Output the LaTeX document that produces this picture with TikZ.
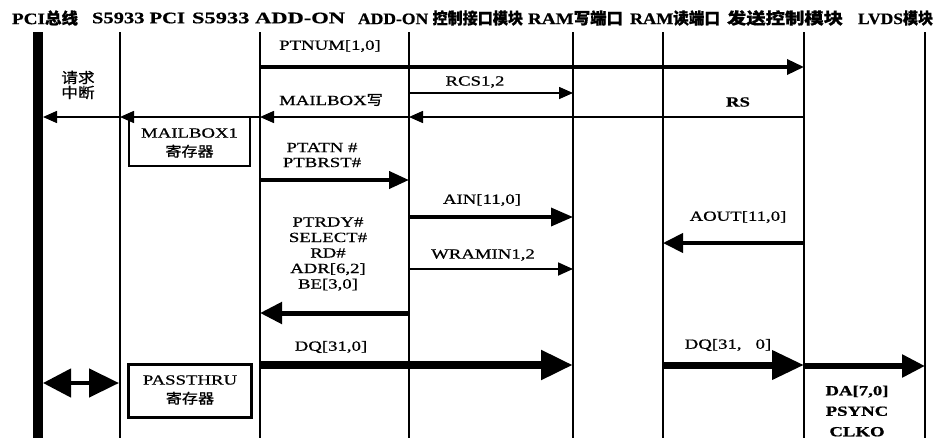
\documentclass[tikz,border=0pt]{standalone}
\usepackage{fontspec}
\usepackage{graphicx}
\usetikzlibrary{arrows.meta}
\setmainfont{Liberation Serif}[FakeStretch=1.34, FakeBold=0.7]
\newfontfamily\cjk{Noto Sans CJK SC}[FakeStretch=1.15, FakeBold=0.8]
\newcommand{\fitw}[2]{\resizebox{#1}{\height}{#2}}
\tikzset{
  lifeline/.style={line width=2pt},
  hdr/.style={font=\fontsize{16}{18}\selectfont\bfseries, inner sep=0pt},
  lbl/.style={font=\fontsize{14}{15.5}\selectfont, inner sep=0pt, align=center},
  thinarr/.style={line width=1.6pt, -{Triangle[length=14pt,width=12pt]}},
  arrA/.style={line width=3.5pt, -{Triangle[length=17pt,width=15pt]}},
  arrB/.style={line width=4pt, -{Triangle[length=20pt,width=17pt]}},
  arrC/.style={line width=5pt, -{Triangle[length=22pt,width=21pt]}},
  arrD/.style={line width=8pt, -{Triangle[length=32pt,width=28pt]}},
  regbox/.style={draw, line width=1.4pt},
}
\begin{document}
\begin{tikzpicture}[x=1pt,y=-1pt]
\useasboundingbox[fill=white] (0,0) rectangle (945,442);
% headers
\node[hdr] (h1) at (45,18) {\fitw{66pt}{PCI{\cjk\bfseries 总线}}};
\node[hdr] (h2) at (138.5,18) {\fitw{93pt}{S5933 PCI}};
\node[hdr] (h3) at (268.5,18) {\fitw{153pt}{S5933 ADD-ON}};
\node[hdr] (h4) at (440.5,18) {\fitw{165pt}{ADD-ON {\cjk\bfseries 控制接口模块}}};
\node[hdr] (h5) at (575.5,18) {\fitw{95pt}{RAM{\cjk\bfseries 写端口}}};
\node[hdr] (h6) at (675,18) {\fitw{90pt}{RAM{\cjk\bfseries 读端口}}};
\node[hdr] (h7) at (785,18) {\fitw{116pt}{{\cjk\bfseries 发送控制模块}}};
\node[hdr] (h8) at (895.5,18) {\fitw{75pt}{LVDS{\cjk\bfseries 模块}}};
% lifeline positions
\coordinate (pci) at (38,0);
\coordinate (pcie) at (43,0);
\coordinate (s5pci) at (120,0);
\coordinate (s5add) at (260,0);
\coordinate (ctrl) at (409,0);
\coordinate (ramw) at (573,0);
\coordinate (ramr) at (663,0);
\coordinate (send) at (804,0);
\coordinate (lvds) at (925,0);
% lifelines
\draw[line width=10pt] (pci |- 0,32) -- (pci |- 0,438);
\foreach \c in {s5pci,s5add,ctrl,ramw,ramr,send,lvds}
  \draw[lifeline] (\c |- 0,32) -- (\c |- 0,438);
% boxes
\draw[regbox] (129,117) rectangle (250,166);
\node[lbl, font=\fontsize{14}{19}\selectfont] (mb) at (189.5,143) {MAILBOX1\\{\cjk 寄存器}};
\draw[draw, line width=3pt] (128,364) rectangle (251,417);
\node[lbl, font=\fontsize{14}{19}\selectfont] (pt) at (190,390) {PASSTHRU\\{\cjk 寄存器}};
% arrows
\draw[arrA] (s5add |- 0,67) -- (send |- 0,67);
\node[lbl] (l1) at (330,46) {PTNUM[1,0]};
\draw[thinarr] (ctrl |- 0,93) -- (ramw |- 0,93);
\node[lbl] (l2) at (475,82) {RCS1,2};
\draw[thinarr] (send |- 0,117) -- (ctrl |- 0,117);
\node[lbl, font=\fontsize{14}{15.5}\selectfont\bfseries] (l3) at (738,102) {RS};
\draw[thinarr] (ctrl |- 0,117) -- (s5add |- 0,117);
\node[lbl] (l4) at (331,100) {MAILBOX{\cjk 写}};
\draw[thinarr] (s5add |- 0,117) -- (s5pci |- 0,117);
\draw[thinarr] (s5pci |- 0,117) -- (pcie |- 0,117);
\node[lbl, font=\fontsize{14.5}{15}\selectfont\cjk] (l5) at (78,85) {请求\\中断};
\draw[arrB] (s5add |- 0,180) -- (ctrl |- 0,180);
\node[lbl, font=\fontsize{14}{15}\selectfont] (l6) at (322,155) {PTATN \#\\PTBRST\#};
\draw[line width=3.5pt, -{Triangle[length=22pt,width=18pt]}] (ctrl |- 0,217) -- (ramw |- 0,217);
\node[lbl] (l7) at (482,200) {AIN[11,0]};
\draw[line width=4pt, -{Triangle[length=20pt,width=19pt]}] (send |- 0,243) -- (ramr |- 0,243);
\node[lbl] (l8) at (738,217) {AOUT[11,0]};
\draw[line width=1.8pt, -{Triangle[length=15pt,width=13pt]}] (ctrl |- 0,269) -- (ramw |- 0,269);
\node[lbl] (l9) at (483,255) {WRAMIN1,2};
\node[lbl] (l10) at (328,254) {PTRDY\#\\SELECT\#\\RD\#\\ADR[6,2]\\BE[3,0]};
\draw[arrC] (ctrl |- 0,313) -- (s5add |- 0,313);
\draw[arrD] (s5add |- 0,365) -- (ramw |- 0,365);
\node[lbl] (l11) at (331,347) {DQ[31,0]};
\draw[line width=7pt, -{Triangle[length=32pt,width=28pt]}] (ramr |- 0,365) -- (send |- 0,365);
\node[lbl] (l12) at (728,345) {DQ[31,\quad0]};
\draw[line width=5.5pt, -{Triangle[length=23pt,width=22pt]}] (send |- 0,366) -- (lvds |- 0,366);
\node[lbl, font=\fontsize{14}{20.5}\selectfont\bfseries] (l13) at (857,411) {DA[7,0]\\PSYNC\\CLKO};
\draw[line width=4.5pt, {Triangle[length=28pt,width=28pt]}-{Triangle[length=30pt,width=28pt]}] (pcie |- 0,383) -- (119,383);
\end{tikzpicture}
\end{document}
